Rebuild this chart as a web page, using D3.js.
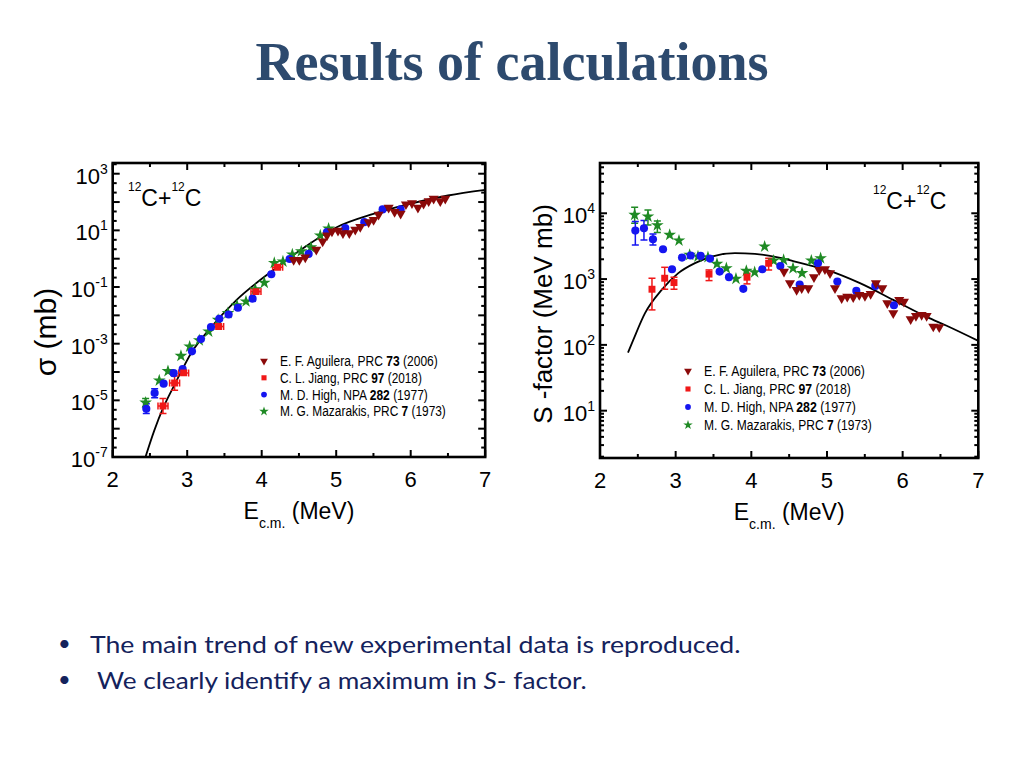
<!DOCTYPE html>
<html><head><meta charset="utf-8">
<script src="https://cdn.jsdelivr.net/npm/d3@7"></script>
<style>body{margin:0;background:#fff}svg{display:block}</style>
</head><body>
<svg id="c" width="1024" height="768"></svg>
<script>
// ---------- data ----------
const xTickValues = [2, 3, 4, 5, 6, 7];
const sigmaTickExps = [3, 1, -1, -3, -5, -7];
const sTickExps = [4, 3, 2, 1];

const legendAuthors = ["E. F. Aguilera, PRC ", "C. L. Jiang, PRC ", "M. D. High, NPA ", "M. G. Mazarakis, PRC "];
const legendVolumes = ["73", "97", "282", "7"];
const legendYears = [" (2006)", " (2018)", " (1977)", " (1973)"];

// cross section sigma (mb) vs E c.m. (MeV)
const sigmaCurve = [[2.44,1.0e-7],[2.56,8.9e-7],[2.68,5.6e-6],[2.84,3.98e-5],[3.06,5.0e-4],[3.31,3.55e-3],[3.66,3.47e-2],[4.13,0.355],[4.60,2.82],[5.00,12.6],[5.50,38.0],[6.00,87.1],[6.50,170],[7.00,269]];
const sigmaAguilera = [[4.429,0.912],[4.505,0.912],[4.585,1.10],[4.733,2.09],[4.818,4.07],[4.876,6.61],[4.943,9.12],[5.024,9.77],[5.091,7.94],[5.176,7.94],[5.256,10.5],[5.323,13.2],[5.435,19.5],[5.502,23.4],[5.569,35.5],[5.704,63.1],[5.784,44.7],[5.865,38.9],[5.936,83.2],[6.017,91.2],[6.097,63.1],[6.173,87.1],[6.241,107],[6.308,132],[6.397,107],[6.464,132]];
// [E, sigma, xerr, low, high]
const sigmaJiang = [[2.675,6.3e-6,0.067,3.45e-6,1.15e-5],[2.831,4.07e-5,0.067,2.29e-5,7.24e-5],[2.952,9.3e-5,0.067,7.8e-5,1.12e-4],[3.422,4.07e-3,0.067,3.7e-3,4.5e-3],[3.923,6.9e-2,0.067,6.3e-2,7.6e-2],[4.214,0.50,0.067,0.45,0.55]];
// [E, sigma, low, high]
const sigmaHigh = [[2.451,5.0e-6,3.4e-6,7.6e-6],[2.563,1.82e-5,1.23e-5,2.57e-5],[2.684,3.89e-5],[2.818,9.1e-5],[2.939,1.26e-4],[3.064,5.37e-4],[3.185,1.45e-3],[3.319,3.89e-3],[3.431,7.59e-3],[3.556,1.07e-2],[3.681,1.86e-2],[3.878,3.89e-2],[4.129,0.282],[4.375,0.977],[4.630,1.48],[4.876,8.71],[5.122,12.0],[5.377,19.5],[5.623,55.0],[5.865,55.0]];
const sigmaMazarakis = [[2.442,8.3e-6,5.9e-6,1.17e-5],[2.625,5.0e-5],[2.742,1.07e-4],[2.916,3.72e-4],[3.033,7.9e-4],[3.162,1.32e-3],[3.288,2.69e-3],[3.415,6.9e-3],[3.547,1.20e-2],[3.668,2.24e-2],[3.789,3.09e-2],[3.914,8.3e-2],[4.035,0.141],[4.169,0.708],[4.285,0.794],[4.411,1.41],[4.531,1.82],[4.661,2.51],[4.786,6.61],[4.898,11.5]];

// S-factor (MeV mb) vs E c.m. (MeV)
const sCurve = [[2.370,76.4],[2.440,119],[2.595,303],[2.815,685],[3.035,1230],[3.255,1746],[3.476,2198],[3.784,2477],[4.048,2415],[4.401,2080],[4.577,1845],[4.996,1380],[5.436,867],[5.876,483],[6.317,267],[6.582,195],[7.0,115]];
const sAguilera = [[4.432,1300],[4.511,867],[4.599,685],[4.666,728],[4.753,728],[4.828,1070],[4.898,1380],[4.973,1413],[5.040,1230],[5.106,728],[5.194,513],[5.268,542],[5.347,531],[5.427,575],[5.502,556],[5.577,596],[5.647,867],[5.731,728],[5.797,431],[5.876,303],[5.955,483],[6.017,455],[6.106,246],[6.176,276],[6.251,286],[6.317,276],[6.405,190],[6.484,186]];
// [E, S, low, high]
const sJiang = [[2.687,701,340,1030],[2.855,1030,701,1510],[2.978,885,701,1067],[3.441,1190,948,1377],[3.943,1067,845,1227],[4.229,1740,1377,2075]];
const sHigh = [[2.467,5460,3300,7480],[2.581,5920,3940,7740],[2.700,4030,3300,4850],[2.833,2840],[2.952,1410],[3.084,2120],[3.198,2280],[3.330,2250],[3.454,2050],[3.581,1300],[3.705,1070],[3.894,710],[4.145,1410],[4.383,1580],[4.639,824],[4.881,1740],[5.137,916],[5.388,661],[5.639,787],[5.885,400]];
const sMazarakis = [[2.458,9440,7060,12360],[2.634,8910,6650,11250],[2.758,6580,5090,7660],[2.921,4690],[3.044,3850],[3.185,2330],[3.295,2200],[3.427,2150],[3.546,1700],[3.670,1460],[3.797,1010],[3.934,1330],[4.044,1270],[4.176,3120],[4.295,1910],[4.427,1950],[4.551,1460],[4.670,1230],[4.793,1910],[4.916,2070]];

// ---------- styles ----------
const COL = {agu: "#8b0a0a", jia: "#f01818", hig: "#1515f0", maz: "#1f8a24"};
const FONT = "'Liberation Sans', Arial, sans-serif";

const svg = d3.select("#c");

// fit a text horizontally to a target width by scaling (keeps glyph boxes consistent)
function fitWidth(t, x, y, w) {
  const len = t.node().getComputedTextLength();
  const sx = w / len;
  t.attr("x", 0).attr("y", 0).attr("transform", `translate(${x},${y}) scale(${sx},1)`);
}

// title
svg.append("text").attr("x", 512).attr("y", 80).attr("text-anchor", "middle")
  .attr("font-family", "'Liberation Serif', 'Times New Roman', serif").attr("font-weight", "bold")
  .attr("font-size", 54).attr("fill", "#2d4a6e").text("Results of calculations");

// bullets
const bullets = [
  {y: 653, x: 90, parts: [["The main trend of new experimental data is reproduced.", "normal"]], w: 651},
  {y: 689, x: 97, parts: [["We clearly identify a maximum in ", "normal"], ["S", "italic"], ["- factor.", "normal"]], w: 490}
];
bullets.forEach(b => {
  svg.append("text").attr("x", 58).attr("y", b.y - 2).attr("font-family", "Lato, 'Open Sans', sans-serif")
    .attr("font-size", 22).attr("fill", "#14225c").text("\u2022");
  const t = svg.append("text").attr("font-family", "Lato, 'Open Sans', sans-serif")
    .attr("font-size", 24).attr("fill", "#14225c");
  b.parts.forEach(p => t.append("tspan").attr("font-style", p[1]).text(p[0]));
  fitWidth(t, b.x, b.y, b.w);
});

// marker helpers
function markerPath(kind, size) {
  const map = {agu: d3.symbolTriangle, jia: d3.symbolSquare, hig: d3.symbolCircle, maz: d3.symbolStar};
  return d3.symbol(map[kind], size)();
}
function drawMarker(g, kind, x, y, size) {
  g.append("path").attr("d", markerPath(kind, size))
    .attr("transform", `translate(${x},${y})` + (kind === "agu" ? " rotate(180)" : ""))
    .attr("fill", COL[kind]);
}

function panel(cfg) {
  const g = svg.append("g");
  const x = cfg.x, y = cfg.y;
  const [x0, x1] = x.range(), [y0, y1] = y.range(); // y0 bottom, y1 top
  const cid = "clip" + cfg.id;
  svg.append("clipPath").attr("id", cid).append("rect")
    .attr("x", x0).attr("y", y1).attr("width", x1 - x0).attr("height", y0 - y1);

  // ticks (inward on all sides)
  const tk = g.append("g").attr("stroke", "#000").attr("stroke-width", 2);
  d3.range(2, 7.01, 0.5).forEach(v => {
    const L = Number.isInteger(v) ? 7 : 4;
    tk.append("line").attr("x1", x(v)).attr("x2", x(v)).attr("y1", y0).attr("y2", y0 - L);
    tk.append("line").attr("x1", x(v)).attr("x2", x(v)).attr("y1", y1).attr("y2", y1 + L);
  });
  cfg.yTicks.forEach(t => {
    const L = t.major ? 7 : 4;
    const py = y(t.v);
    if (py < y1 - 0.5 || py > y0 + 0.5) return;
    tk.append("line").attr("x1", x0).attr("x2", x0 + L).attr("y1", py).attr("y2", py);
    tk.append("line").attr("x1", x1).attr("x2", x1 - L).attr("y1", py).attr("y2", py);
  });
  // frame
  g.append("rect").attr("x", x0).attr("y", y1).attr("width", x1 - x0).attr("height", y0 - y1)
    .attr("fill", "none").attr("stroke", "#000").attr("stroke-width", 2.6);

  // x tick labels
  xTickValues.forEach(v => {
    g.append("text").attr("x", x(v)).attr("y", y0 + 30).attr("text-anchor", "middle")
      .attr("font-family", FONT).attr("font-size", 22).text(v);
  });
  // y tick labels
  cfg.labelExps.forEach(e => {
    const t = g.append("text").attr("x", x0 - 5).attr("y", y(Math.pow(10, e)) + 10).attr("text-anchor", "end")
      .attr("font-family", FONT).attr("font-size", 22);
    t.append("tspan").text("10");
    t.append("tspan").attr("dy", -10).attr("font-size", 14).text(e);
  });
  // x axis title
  const xt = g.append("text").attr("x", (x0 + x1) / 2).attr("y", y0 + 62).attr("text-anchor", "middle")
    .attr("font-family", FONT).attr("font-size", 23);
  xt.append("tspan").text("E");
  xt.append("tspan").attr("dy", 9).attr("font-size", 14).text("c.m.");
  xt.append("tspan").attr("dy", -9).text(" (MeV)");
  // y title
  g.append("text").attr("transform", `translate(${cfg.ytx},${cfg.ytcy}) rotate(-90)`)
    .attr("text-anchor", "middle").attr("font-family", FONT).attr("font-size", cfg.ytSize).text(cfg.yTitle);

  // reaction label
  const rl = g.append("text").attr("x", cfg.rlx).attr("y", cfg.rly).attr("font-family", FONT).attr("font-size", 23);
  rl.append("tspan").attr("font-size", 12).attr("dy", -15).text("12");
  rl.append("tspan").attr("dy", 15).text("C+");
  rl.append("tspan").attr("font-size", 12).attr("dy", -15).text("12");
  rl.append("tspan").attr("dy", 15).text("C");

  const pg = g.append("g").attr("clip-path", `url(#${cid})`);
  pg.append("path").datum(cfg.curve)
    .attr("d", d3.line().x(d => x(d[0])).y(d => y(d[1])).curve(d3.curveMonotoneX))
    .attr("fill", "none").attr("stroke", "#000").attr("stroke-width", 1.8);

  function vErr(kind, d, li, hi) {
    if (d[li] === undefined) return;
    const px = x(d[0]);
    const eg = pg.append("g").attr("stroke", COL[kind]).attr("stroke-width", 1.5);
    eg.append("line").attr("x1", px).attr("x2", px).attr("y1", y(d[li])).attr("y2", y(d[hi]));
    [li, hi].forEach(k => eg.append("line").attr("x1", px - 3.5).attr("x2", px + 3.5).attr("y1", y(d[k])).attr("y2", y(d[k])));
  }
  cfg.sets.forEach(s => {
    s.data.forEach(d => {
      if (s.xerr) {
        const eg = pg.append("g").attr("stroke", COL[s.kind]).attr("stroke-width", 1.5);
        const py = y(d[1]);
        eg.append("line").attr("x1", x(d[0] - d[2])).attr("x2", x(d[0] + d[2])).attr("y1", py).attr("y2", py);
        [d[0] - d[2], d[0] + d[2]].forEach(v => eg.append("line").attr("x1", x(v)).attr("x2", x(v)).attr("y1", py - 3.5).attr("y2", py + 3.5));
        vErr(s.kind, d, 3, 4);
      } else {
        vErr(s.kind, d, 2, 3);
      }
    });
  });
  cfg.sets.forEach(s => {
    s.data.forEach(d => drawMarker(pg, s.kind, x(d[0]), y(d[1]), s.size));
  });

  // legend
  ["agu", "jia", "hig", "maz"].forEach((k, i) => {
    const cy = cfg.lgy + i * cfg.lgdy;
    drawMarker(g, k, cfg.lgx, cy, k === "maz" ? 28 : 26);
    const t = g.append("text").attr("font-family", FONT).attr("font-size", 14.5);
    t.append("tspan").text(legendAuthors[i]);
    t.append("tspan").attr("font-weight", "bold").text(legendVolumes[i]);
    t.append("tspan").text(legendYears[i]);
    fitWidth(t, cfg.lgx + 16, cy + 5, cfg.lgw[i]);
  });
}

// left panel: cross section
const xL = d3.scaleLinear().domain([2, 7]).range([112.7, 485.2]);
const yL = d3.scaleLog().domain([1e-7, Math.pow(10, 3.378)]).range([457, 163]);
const yTicksL = [];
d3.range(-7, 4).forEach(e => {
  yTicksL.push({v: Math.pow(10, e), major: true});
  yTicksL.push({v: Math.pow(10, e + 1 / 3), major: false});
  yTicksL.push({v: Math.pow(10, e + 2 / 3), major: false});
});
panel({
  id: "L", x: xL, y: yL, yTicks: yTicksL, labelExps: sigmaTickExps,
  yTitle: "\u03c3 (mb)", ytx: 56, ytcy: 332, ytSize: 30,
  rlx: 128, rly: 206,
  curve: sigmaCurve,
  sets: [
    {kind: "maz", data: sigmaMazarakis, size: 50},
    {kind: "hig", data: sigmaHigh, size: 52},
    {kind: "jia", data: sigmaJiang, size: 48, xerr: true},
    {kind: "agu", data: sigmaAguilera, size: 44}
  ],
  lgx: 264, lgy: 361, lgdy: 16.8, lgw: [158, 142, 148, 166]
});

// right panel: S-factor
const xR = d3.scaleLinear().domain([2, 7]).range([600, 978.3]);
const yR = d3.scaleLog().domain([1.91, 58070]).range([458, 163]);
const yTicksR = [];
d3.range(0, 5).forEach(e => {
  d3.range(1, 10).forEach(m => yTicksR.push({v: m * Math.pow(10, e), major: m === 1}));
});
panel({
  id: "R", x: xR, y: yR, yTicks: yTicksR, labelExps: sTickExps,
  yTitle: "S -factor (MeV mb)", ytx: 552, ytcy: 314, ytSize: 26,
  rlx: 873, rly: 209,
  curve: sCurve,
  sets: [
    {kind: "maz", data: sMazarakis, size: 50},
    {kind: "hig", data: sHigh, size: 52},
    {kind: "jia", data: sJiang, size: 48},
    {kind: "agu", data: sAguilera, size: 44}
  ],
  lgx: 688, lgy: 371, lgdy: 18, lgw: [161, 147, 152, 168]
});
</script>
</body></html>
